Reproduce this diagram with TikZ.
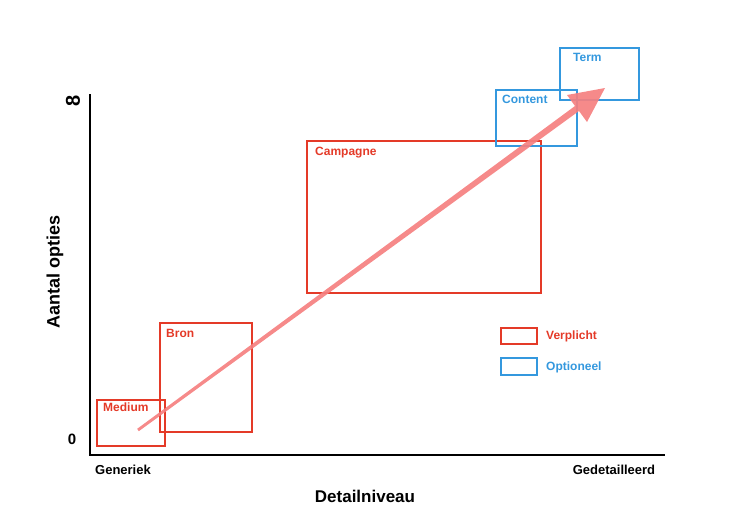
\documentclass[tikz,border=0pt]{standalone}
\usepackage{fontspec}
\setmainfont{Liberation Sans}
\definecolor{rd}{RGB}{228,58,40}
\definecolor{bl}{RGB}{52,152,222}
\definecolor{ar}{RGB}{245,128,128}
\begin{document}
\begin{tikzpicture}[x=1pt,y=-1pt,
  rbox/.style={draw=rd,line width=1.5pt},
  bbox/.style={draw=bl,line width=1.5pt},
  rlab/.style={text=rd,font=\bfseries\fontsize{12}{13}\selectfont,anchor=north west,inner sep=0pt},
  blab/.style={text=bl,font=\bfseries\fontsize{12}{13}\selectfont,anchor=north west,inner sep=0pt},
  axl/.style={font=\bfseries\fontsize{13}{15}\selectfont}]
\useasboundingbox (0,0) rectangle (740,528);
% axes
\coordinate (ytop) at (90,94);
\coordinate (org) at (90,455);
\coordinate (xend) at (665,455);
\draw[line width=1.8pt] (ytop) -- (org) -- (xend);
\node[rotate=90,font=\bfseries\fontsize{20}{20}\selectfont] (inf) at (73,101) {8};
\node[font=\bfseries\fontsize{15}{15}\selectfont] (zero) at (72,439) {0};
\node[rotate=90,font=\bfseries\fontsize{18}{20}\selectfont] (yl) at (55,272) {Aantal opties};
\node[axl] (gen) at (123,470) {Generiek};
\node[axl] (ged) at (614,470) {Gedetailleerd};
\node[font=\bfseries\fontsize{17}{19}\selectfont] (xl) at (365,496) {Detailniveau};
% boxes
\draw[rbox] (97,400) rectangle (165,446);
\node[rlab] (medium) at (103,403) {Medium};
\draw[rbox] (160,323) rectangle (252,432);
\node[rlab] (bron) at (166,329) {Bron};
\draw[rbox] (307,141) rectangle (541,293);
\node[rlab] (camp) at (315,147) {Campagne};
\draw[bbox] (496,90) rectangle (577,146);
\node[blab] (content) at (502,95) {Content};
\draw[bbox] (560,48) rectangle (639,100);
\node[blab] (term) at (573,53) {Term};
% legend
\draw[rbox] (501,328) rectangle (537,344);
\node[rlab,anchor=west] (verp) at (546,336) {Verplicht};
\draw[bbox] (501,358) rectangle (537,375);
\node[blab,anchor=west] (opt) at (546,367) {Optioneel};
% arrow
\fill[ar,opacity=0.92] (138.8,431.2) -- (579,111) -- (587,122) -- (605,88) -- (567,95) -- (575,106) -- (137.2,428.8) -- cycle;
\end{tikzpicture}
\end{document}
